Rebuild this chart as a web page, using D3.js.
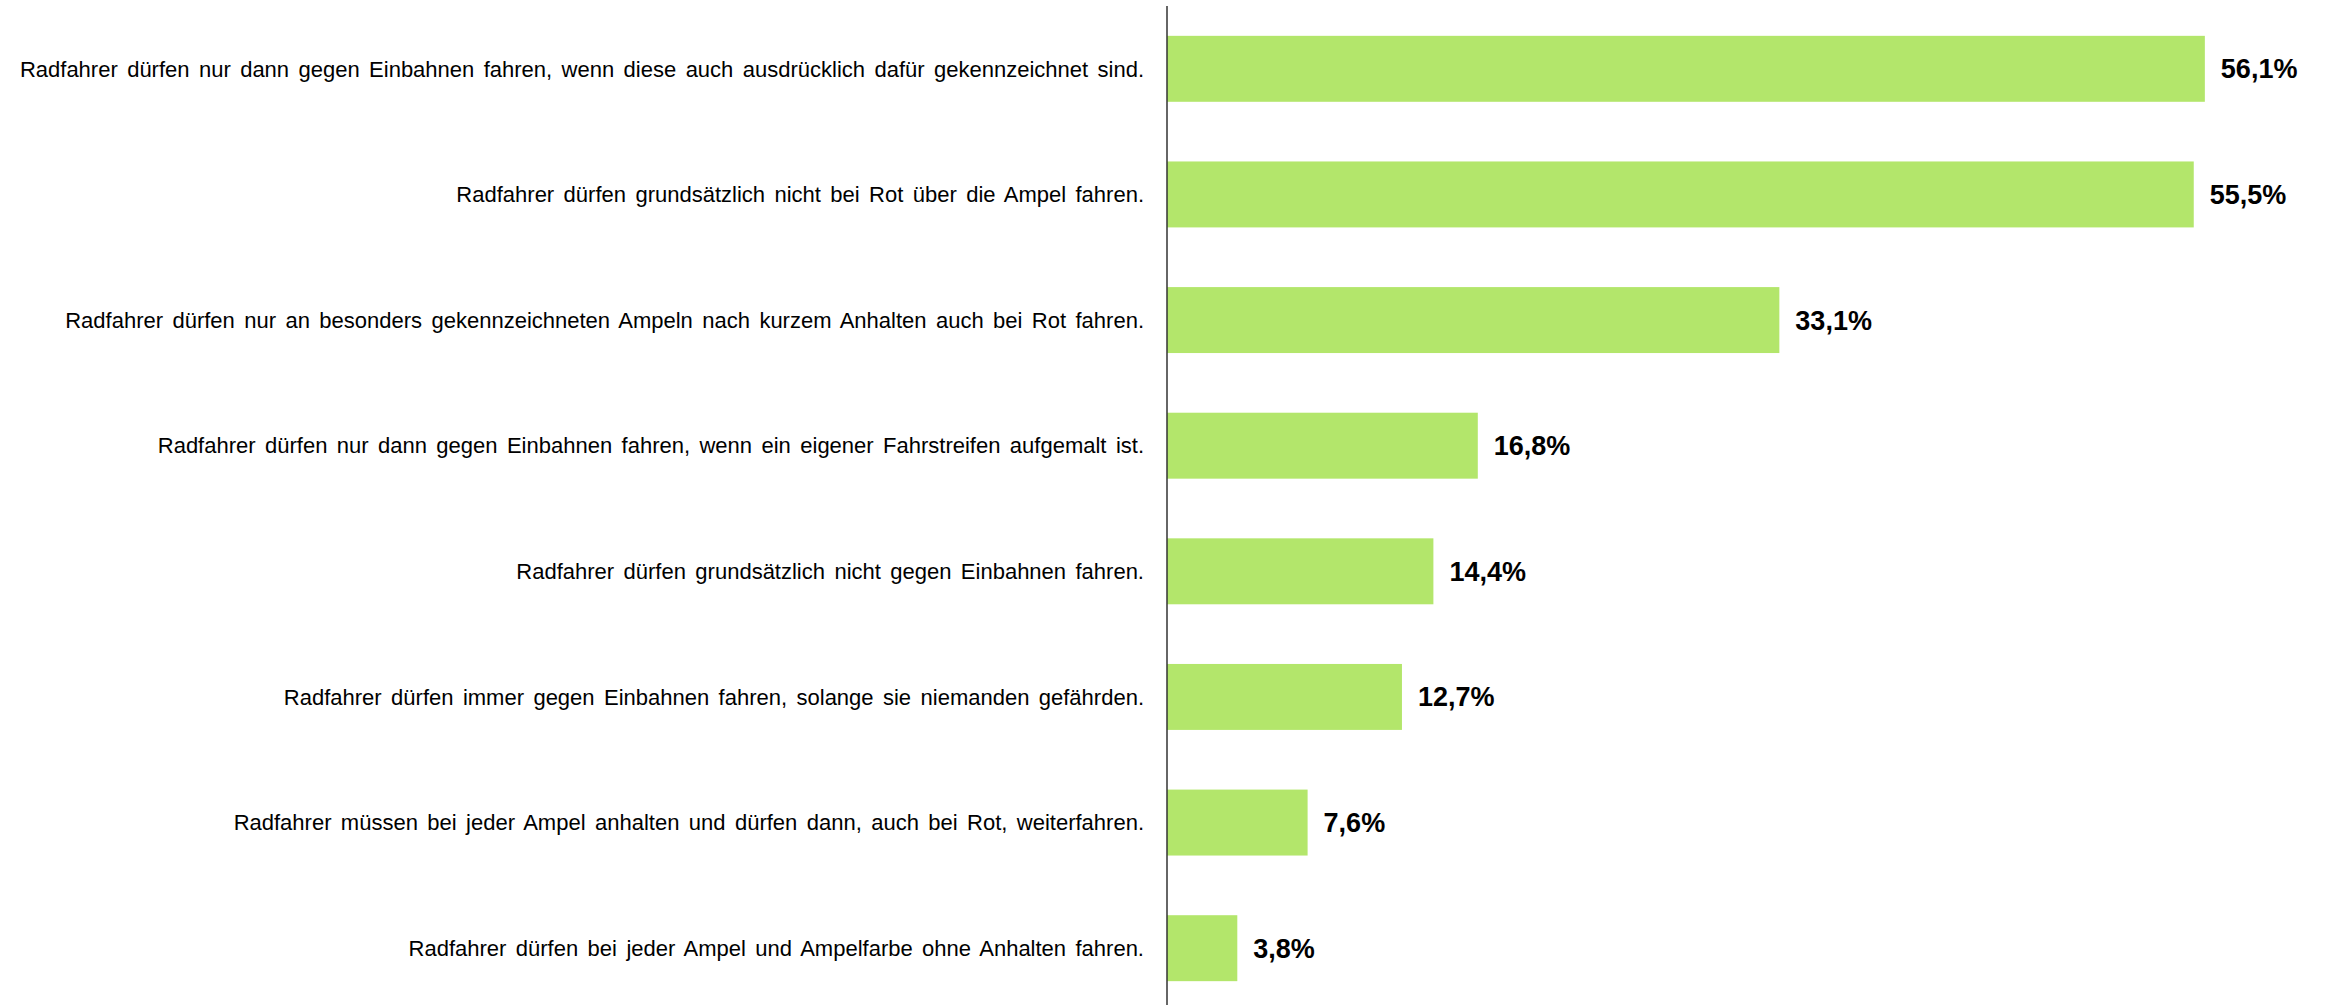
<!DOCTYPE html>
<html lang="de">
<head>
    <meta charset="UTF-8">
    <title>Radfahrer Regeln</title>
    <script src="https://d3js.org/d3.v7.min.js"></script>
    <style>
        body { margin: 0; background: #fff; font-family: Arial, "Liberation Sans", sans-serif; }
        svg { display: block; }
    </style>
</head>
<body>
    <svg width="2328" height="1005"></svg>
    <script>
        const categories = [
            "Radfahrer dürfen nur dann gegen Einbahnen fahren, wenn diese auch ausdrücklich dafür gekennzeichnet sind.",
            "Radfahrer dürfen grundsätzlich nicht bei Rot über die Ampel fahren.",
            "Radfahrer dürfen nur an besonders gekennzeichneten Ampeln nach kurzem Anhalten auch bei Rot fahren.",
            "Radfahrer dürfen nur dann gegen Einbahnen fahren, wenn ein eigener Fahrstreifen aufgemalt ist.",
            "Radfahrer dürfen grundsätzlich nicht gegen Einbahnen fahren.",
            "Radfahrer dürfen immer gegen Einbahnen fahren, solange sie niemanden gefährden.",
            "Radfahrer müssen bei jeder Ampel anhalten und dürfen dann, auch bei Rot, weiterfahren.",
            "Radfahrer dürfen bei jeder Ampel und Ampelfarbe ohne Anhalten fahren."
        ];
        const values = [56.1, 55.5, 33.1, 16.8, 14.4, 12.7, 7.6, 3.8];

        const width = 2328, height = 1005;
        const x0 = 1167;
        const svg = d3.select("svg");

        const xScale = d3.scaleLinear().domain([0, 60]).range([x0, x0 + 1110]);
        const yScale = d3.scaleBand().domain(categories)
            .range([6, 1011]).paddingInner(0.475).paddingOuter(0.2375);

        const fmt = v => d3.format(".1f")(v).replace(".", ",") + "%";

        svg.selectAll("rect.bar")
            .data(values)
            .join("rect")
            .attr("class", "bar")
            .attr("x", xScale(0))
            .attr("y", (d, i) => yScale(categories[i]))
            .attr("width", d => xScale(d) - xScale(0))
            .attr("height", yScale.bandwidth())
            .attr("fill", "#b3e66b");

        svg.selectAll("text.val")
            .data(values)
            .join("text")
            .attr("class", "val")
            .attr("x", d => xScale(d) + 16)
            .attr("y", (d, i) => yScale(categories[i]) + yScale.bandwidth() / 2)
            .attr("dy", "0.35em")
            .attr("font-size", 27)
            .attr("font-weight", "bold")
            .attr("fill", "#000")
            .text(fmt);

        svg.selectAll("text.cat")
            .data(categories)
            .join("text")
            .attr("class", "cat")
            .attr("x", 1144)
            .attr("y", d => yScale(d) + yScale.bandwidth() / 2)
            .attr("dy", "0.35em")
            .attr("text-anchor", "end")
            .attr("font-size", 22)
            .attr("word-spacing", 3.3)
            .attr("fill", "#000")
            .text(d => d);

        svg.append("line")
            .attr("x1", x0).attr("x2", x0)
            .attr("y1", 6).attr("y2", height)
            .attr("stroke", "#333")
            .attr("stroke-width", 1.5);
    </script>
</body>
</html>
